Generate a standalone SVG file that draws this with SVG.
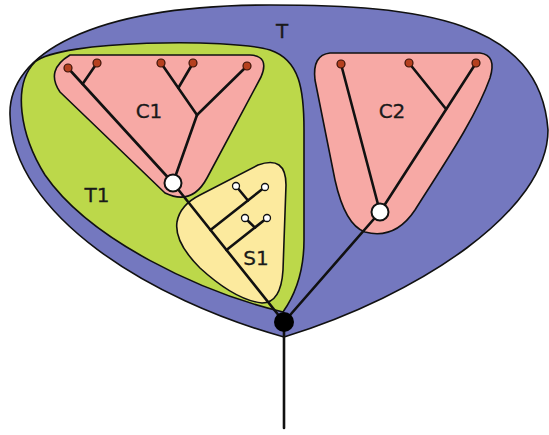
<svg xmlns="http://www.w3.org/2000/svg" width="549" height="435" viewBox="0 0 549 435">
<style>
.region{stroke:#111;stroke-width:1.6;stroke-linejoin:round}
.edge{stroke:#111;stroke-width:2.6;stroke-linecap:round;fill:none}
.lbl{font-family:"DejaVu Sans",sans-serif;font-size:20px;fill:#1a1a1a;stroke:#1a1a1a;stroke-width:0.3;text-anchor:middle}
.leaf{fill:#b5401f;stroke:#3a1208;stroke-width:1.2}
.wnode{fill:#fff;stroke:#111;stroke-width:2}
.sleaf{fill:#fff;stroke:#111;stroke-width:1.3}
</style>
<rect width="549" height="435" fill="#fff"/>
<g id="T">
<path class="region" fill="#7478bf" d="M284,337 C150,300 12,215 10,115 C8,55 90,5 270,5 C420,5 540,20 548,130 C548,210 420,295 284,337 Z"/>
<text class="lbl" x="282" y="38">T</text>
</g>
<g id="T1">
<path class="region" fill="#bcd84a" d="M283,312 C200,292 90,240 45,175 C20,135 12,85 35,62 C60,40 230,38 270,50 C300,60 304,90 304,130 L304,240 C304,270 295,295 283,312 Z"/>
<text class="lbl" x="97" y="202">T1</text>
</g>
<g id="C1">
<path class="region" fill="#f7a9a5" d="M70,55 L250,55 Q270,56 261,77 L207,178 Q192,206 165,193 L60,92 Q45,70 70,55 Z"/>
<text class="lbl" x="149" y="118">C1</text>
</g>
<g id="S1">
<path class="region" fill="#fcea9e" d="M200,195 L258,165 Q286,155 286,185 L283,270 Q281,303 262,303 Q235,300 200,268 Q174,242 177,222 Q180,205 200,195 Z"/>
<text class="lbl" x="256" y="265">S1</text>
</g>
<g id="C2">
<path class="region" fill="#f7a9a5" d="M330,53 L480,53 Q497,55 490,78 C475,120 440,170 415,210 Q395,240 365,232 Q345,225 335,180 L315,80 Q312,55 330,53 Z"/>
<text class="lbl" x="392" y="118">C2</text>
</g>
<g id="connectors">
<line class="edge" x1="173" y1="183" x2="68" y2="68"/>
<line class="edge" x1="82.6" y1="84" x2="97" y2="63"/>
<line class="edge" x1="173" y1="183" x2="197" y2="115"/>
<line class="edge" x1="197" y1="115" x2="247" y2="66"/>
<line class="edge" x1="197" y1="115" x2="161" y2="63"/>
<line class="edge" x1="178.3" y1="88" x2="193" y2="63"/>
<line class="edge" x1="380" y1="212" x2="341" y2="64"/>
<line class="edge" x1="380" y1="212" x2="476" y2="63"/>
<line class="edge" x1="446" y1="109" x2="409" y2="63"/>
<line class="edge" x1="173" y1="183" x2="284" y2="322"/>
<line class="edge" x1="210.5" y1="230" x2="265" y2="187"/>
<line class="edge" x1="248" y1="200.5" x2="236" y2="186"/>
<line class="edge" x1="226.5" y1="250" x2="267" y2="218"/>
<line class="edge" x1="255" y1="227.6" x2="245" y2="218"/>
<line class="edge" x1="284" y1="322" x2="380" y2="212"/>
<line class="edge" x1="284" y1="322" x2="284" y2="428"/>
</g>
<g id="nodes">
<circle class="leaf" cx="68" cy="68" r="4"/>
<circle class="leaf" cx="97" cy="63" r="4"/>
<circle class="leaf" cx="161" cy="63" r="4"/>
<circle class="leaf" cx="193" cy="63" r="4"/>
<circle class="leaf" cx="247" cy="66" r="4"/>
<circle class="leaf" cx="341" cy="64" r="4"/>
<circle class="leaf" cx="409" cy="63" r="4"/>
<circle class="leaf" cx="476" cy="63" r="4"/>
<circle class="sleaf" cx="236" cy="186" r="3.5"/>
<circle class="sleaf" cx="265" cy="187" r="3.5"/>
<circle class="sleaf" cx="245" cy="218" r="3.5"/>
<circle class="sleaf" cx="267" cy="218" r="3.5"/>
<circle class="wnode" cx="173" cy="183" r="8.5"/>
<circle class="wnode" cx="380" cy="212" r="8.5"/>
<circle cx="284" cy="322" r="10" fill="#000"/>
</g>
</svg>
